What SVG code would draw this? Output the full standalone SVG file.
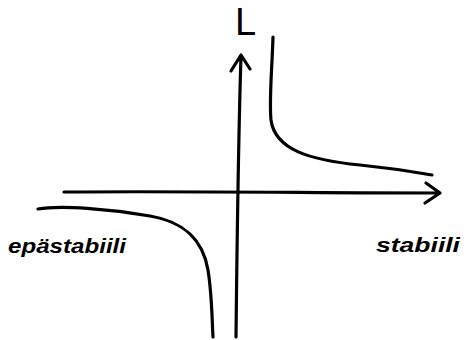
<svg xmlns="http://www.w3.org/2000/svg" width="467" height="340" viewBox="0 0 467 340">
<style>
.s{fill:none;stroke:#000;stroke-width:3.2;stroke-linecap:round;stroke-linejoin:round}
.t{font-family:"Liberation Sans",sans-serif;font-size:21px;font-style:italic;font-weight:bold;fill:#000}
</style>
<rect width="467" height="340" fill="#fff"/>
<g id="connectors">
<path id="x-axis" class="s" d="M64,192 C200,191 320,193 440,193 M426,183 L440,193 L425,203"/>
<path id="y-axis" class="s" d="M236,337 C237,250 238,150 241,56 M231,71 L241,55 L250,69"/>
</g>
<g id="curve-upper">
<path class="s" d="M273,37 C272,70 269,100 271,120 C275,150 310,160 360,165 C390,168 415,172 432,175"/>
</g>
<g id="curve-lower">
<path class="s" d="M38,209 C60,205 110,209 150,216 C185,222 203,240 208,270 C212,295 212,320 213,337"/>
</g>
<g id="label-L"><text x="235" y="35" font-family="Liberation Sans, sans-serif" font-size="38" fill="#000">L</text></g>
<g id="label-unstable"><text class="t" x="8" y="253" textLength="118" lengthAdjust="spacingAndGlyphs">epästabiili</text></g>
<g id="label-stable"><text class="t" x="376" y="252" textLength="84" lengthAdjust="spacingAndGlyphs">stabiili</text></g>
</svg>
